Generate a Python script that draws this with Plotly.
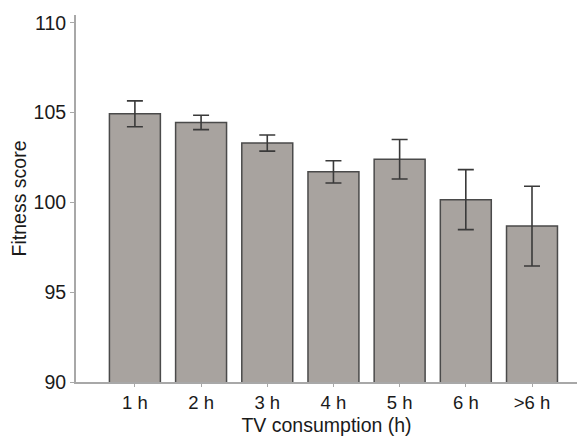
import plotly.graph_objects as go

# Fitness score by daily TV consumption (mean ± error)
categories = ["1 h", "2 h", "3 h", "4 h", "5 h", "6 h", ">6 h"]
fitness_mean = [104.93, 104.45, 103.3, 101.7, 102.4, 100.15, 98.68]
fitness_err = [0.72, 0.4, 0.45, 0.62, 1.1, 1.67, 2.22]

positions = list(range(len(categories)))

fig = go.Figure()
fig.add_trace(go.Bar(
    x=positions,
    y=fitness_mean,
    base=0,
    width=0.77,
    marker=dict(color="#a8a39f", line=dict(color="#4a4a4a", width=1.5)),
    error_y=dict(type="data", array=fitness_err, visible=True,
                 color="#3a3a3a", thickness=1.6, width=8),
    showlegend=False,
))

axis_font = dict(family="Liberation Sans, Arial, sans-serif", size=18, color="#1a1a1a")

fig.update_layout(
    width=577, height=438,
    margin=dict(l=76, r=0, t=15, b=56),
    paper_bgcolor="white",
    plot_bgcolor="white",
    font=axis_font,
    xaxis=dict(
        range=[-0.89, 6.68],
        tickmode="array", tickvals=positions, ticktext=categories,
        showline=True, linecolor="#a8a8a8", linewidth=2,
        ticks="outside", ticklen=3, tickcolor="#a8a8a8", tickwidth=1,
        showgrid=False, zeroline=False,
        tickfont=dict(size=18.5),
        title=dict(text="TV consumption (h)", font=dict(size=19.5), standoff=6),
    ),
    yaxis=dict(
        range=[90, 110.43],
        tickvals=[90, 95, 100, 105, 110],
        showline=True, linecolor="#a8a8a8", linewidth=2,
        ticks="outside", ticklen=4, tickcolor="#a8a8a8", tickwidth=1,
        showgrid=False, zeroline=False,
        tickfont=dict(size=19.5),
        title=dict(text="Fitness score", font=dict(size=19.5), standoff=2),
    ),
)

fig.write_html("out.html")
